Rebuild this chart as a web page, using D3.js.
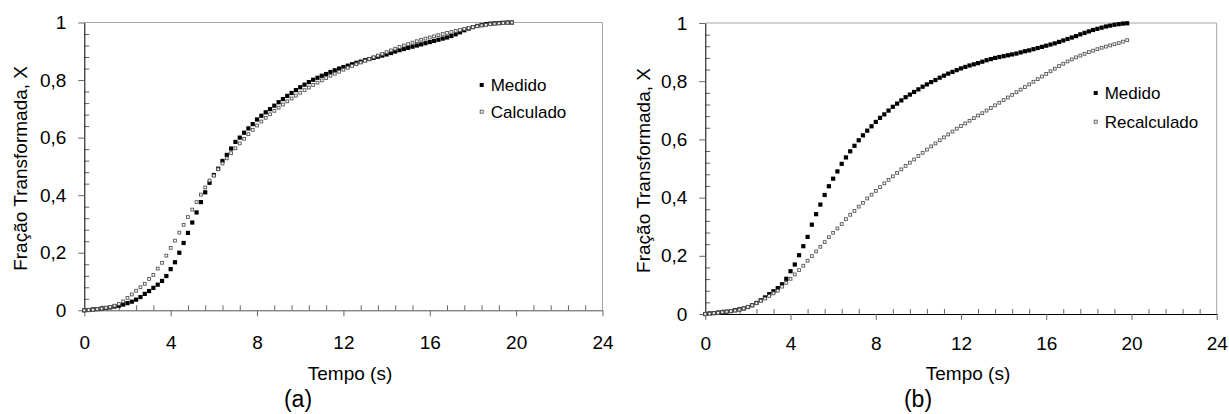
<!DOCTYPE html>
<html lang="pt">
<head>
  <meta charset="UTF-8">
  <title>Fração Transformada x Tempo</title>
  <script src="https://d3js.org/d3.v7.min.js"></script>
  <style>
    body { margin: 0; background: #fff; }
    svg { display: block; font-family: Arial, "Liberation Sans", sans-serif; }
    .tick text { font-size: 19px; fill: #000; }
  </style>
</head>
<body>
<svg id="chart" width="1229" height="414"></svg>
<script>
  // Tempo (s) de cada ponto medido
  const time = [0, 0.2, 0.4, 0.6, 0.8, 1.0, 1.2, 1.4, 1.6, 1.8,
    2.0, 2.2, 2.4, 2.6, 2.8, 3.0, 3.2, 3.4, 3.6, 3.8,
    4.0, 4.2, 4.4, 4.6, 4.8, 5.0, 5.2, 5.4, 5.6, 5.8,
    6.0, 6.2, 6.4, 6.6, 6.8, 7.0, 7.2, 7.4, 7.6, 7.8,
    8.0, 8.2, 8.4, 8.6, 8.8, 9.0, 9.2, 9.4, 9.6, 9.8,
    10.0, 10.2, 10.4, 10.6, 10.8, 11.0, 11.2, 11.4, 11.6, 11.8,
    12.0, 12.2, 12.4, 12.6, 12.8, 13.0, 13.2, 13.4, 13.6, 13.8,
    14.0, 14.2, 14.4, 14.6, 14.8, 15.0, 15.2, 15.4, 15.6, 15.8,
    16.0, 16.2, 16.4, 16.6, 16.8, 17.0, 17.2, 17.4, 17.6, 17.8,
    18.0, 18.2, 18.4, 18.6, 18.8, 19.0, 19.2, 19.4, 19.6, 19.8];

  // (a) Medido / Calculado
  const medidoA = [0.000, 0.001, 0.003, 0.004, 0.006, 0.008, 0.010, 0.013, 0.016, 0.020,
    0.025, 0.030, 0.037, 0.046, 0.057, 0.067, 0.078, 0.089, 0.102, 0.119,
    0.143, 0.167, 0.200, 0.234, 0.269, 0.305, 0.340, 0.376, 0.410, 0.443,
    0.470, 0.492, 0.519, 0.540, 0.562, 0.585, 0.600, 0.617, 0.632, 0.647,
    0.663, 0.676, 0.688, 0.699, 0.711, 0.723, 0.734, 0.745, 0.755, 0.765,
    0.775, 0.784, 0.793, 0.801, 0.808, 0.815, 0.821, 0.828, 0.834, 0.840,
    0.845, 0.850, 0.855, 0.860, 0.864, 0.869, 0.873, 0.877, 0.881, 0.885,
    0.889, 0.894, 0.899, 0.904, 0.908, 0.912, 0.916, 0.920, 0.924, 0.928,
    0.932, 0.936, 0.940, 0.944, 0.948, 0.953, 0.959, 0.966, 0.973, 0.979,
    0.984, 0.988, 0.991, 0.994, 0.996, 0.997, 0.998, 0.999, 1.000, 1.000];
  const calculadoA = [0.000, 0.001, 0.002, 0.004, 0.006, 0.009, 0.012, 0.016, 0.022, 0.031,
    0.043, 0.055, 0.068, 0.080, 0.092, 0.109, 0.123, 0.145, 0.165, 0.190,
    0.217, 0.242, 0.270, 0.297, 0.324, 0.350, 0.376, 0.402, 0.427, 0.451,
    0.468, 0.490, 0.510, 0.528, 0.546, 0.563, 0.580, 0.596, 0.612, 0.627,
    0.642, 0.656, 0.669, 0.681, 0.693, 0.704, 0.715, 0.726, 0.736, 0.746,
    0.756, 0.765, 0.774, 0.783, 0.791, 0.799, 0.807, 0.815, 0.822, 0.829,
    0.836, 0.843, 0.849, 0.855, 0.861, 0.867, 0.873, 0.879, 0.885, 0.891,
    0.897, 0.903, 0.909, 0.915, 0.920, 0.925, 0.930, 0.935, 0.940, 0.944,
    0.948, 0.952, 0.956, 0.960, 0.964, 0.967, 0.971, 0.974, 0.978, 0.981,
    0.984, 0.987, 0.990, 0.992, 0.994, 0.996, 0.997, 0.998, 0.999, 1.000];

  // (b) Medido / Recalculado
  const medidoB = [0.000, 0.002, 0.003, 0.005, 0.006, 0.008, 0.010, 0.013, 0.016, 0.019,
    0.024, 0.030, 0.038, 0.047, 0.057, 0.068, 0.078, 0.089, 0.102, 0.121,
    0.147, 0.170, 0.202, 0.233, 0.265, 0.307, 0.343, 0.376, 0.409, 0.439,
    0.465, 0.490, 0.516, 0.538, 0.559, 0.578, 0.597, 0.614, 0.630, 0.645,
    0.660, 0.674, 0.686, 0.699, 0.712, 0.723, 0.734, 0.745, 0.754, 0.763,
    0.772, 0.781, 0.789, 0.797, 0.804, 0.812, 0.819, 0.826, 0.832, 0.838,
    0.844, 0.849, 0.854, 0.858, 0.862, 0.867, 0.872, 0.876, 0.880, 0.883,
    0.886, 0.889, 0.892, 0.895, 0.899, 0.903, 0.906, 0.910, 0.914, 0.918,
    0.922, 0.926, 0.930, 0.935, 0.940, 0.945, 0.950, 0.955, 0.961, 0.966,
    0.971, 0.976, 0.980, 0.984, 0.988, 0.991, 0.994, 0.996, 0.998, 0.999];
  const recalculadoB = [0.000, 0.001, 0.003, 0.004, 0.006, 0.008, 0.010, 0.012, 0.015, 0.019,
    0.024, 0.030, 0.037, 0.045, 0.053, 0.062, 0.071, 0.080, 0.094, 0.107,
    0.121, 0.136, 0.151, 0.166, 0.183, 0.199, 0.215, 0.231, 0.247, 0.264,
    0.279, 0.294, 0.309, 0.326, 0.341, 0.354, 0.369, 0.382, 0.397, 0.410,
    0.423, 0.436, 0.449, 0.461, 0.473, 0.485, 0.497, 0.509, 0.520, 0.531,
    0.543, 0.554, 0.565, 0.576, 0.586, 0.597, 0.607, 0.617, 0.627, 0.637,
    0.646, 0.655, 0.664, 0.673, 0.682, 0.690, 0.699, 0.708, 0.717, 0.726,
    0.735, 0.744, 0.753, 0.762, 0.771, 0.780, 0.789, 0.798, 0.807, 0.816,
    0.825, 0.834, 0.843, 0.852, 0.860, 0.868, 0.875, 0.882, 0.888, 0.894,
    0.900, 0.905, 0.910, 0.915, 0.919, 0.923, 0.927, 0.931, 0.936, 0.941];

  const xTicks = [0, 4, 8, 12, 16, 20, 24];
  const yTicks = [0, 0.2, 0.4, 0.6, 0.8, 1];
  const yTickLabels = ["0", "0,2", "0,4", "0,6", "0,8", "1"];
  const xMinorStep = 0.8, yMinorStep = 0.04;

  const panels = [
    { label: "(a)", left: 84.3, right: 602.5, top: 22.5, bottom: 310.3,
      names: ["Medido", "Calculado"], values: [medidoA, calculadoA],
      legendX: 481.7, legendY: [85, 111.7], labelPad: 19, axisColor: "#555",
      yTitleX: 27, xTitleX: 350, panelX: 298 },
    { label: "(b)", left: 705.3, right: 1216.7, top: 23, bottom: 314,
      names: ["Medido", "Recalculado"], values: [medidoB, recalculadoB],
      legendX: 1095.7, legendY: [93, 121.7], labelPad: 17, axisColor: "#000",
      yTitleX: 650, xTitleX: 968, panelX: 918 }
  ];

  const svg = d3.select("#chart");

  panels.forEach(p => {
    const x = d3.scaleLinear().domain([0, 24]).range([p.left, p.right]);
    const y = d3.scaleLinear().domain([0, 1]).range([p.bottom, p.top]);
    const g = svg.append("g");

    // plot area border (top and right, light gray)
    g.append("path")
      .attr("d", `M${p.left},${p.top}H${p.right}V${p.bottom}`)
      .attr("fill", "none").attr("stroke", "#a6a6a6").attr("stroke-width", 1);

    const xMinor = d3.range(0, 24.001, xMinorStep).filter(v => Math.abs(v / 4 - Math.round(v / 4)) > 1e-6);
    const yMinor = d3.range(0, 1.0001, yMinorStep).filter(v => Math.abs(v / 0.2 - Math.round(v / 0.2)) > 1e-6);

    // x axis
    g.append("g").attr("transform", `translate(0,${p.bottom})`)
      .call(d3.axisBottom(x).tickValues(xMinor).tickSize(-5).tickSizeOuter(0).tickFormat(""))
      .call(s => s.select(".domain").remove())
      .call(s => s.selectAll("line").attr("stroke", "#666"));
    g.append("g").attr("transform", `translate(0,${p.bottom})`)
      .call(d3.axisBottom(x).tickValues(xTicks).tickSize(6).tickSizeOuter(0).tickPadding(p.labelPad))
      .call(s => s.select(".domain").attr("stroke", p.axisColor))
      .call(s => s.selectAll("line").attr("stroke", "#666"));

    // y axis
    g.append("g").attr("transform", `translate(${p.left},0)`)
      .call(d3.axisLeft(y).tickValues(yMinor).tickSize(-5).tickSizeOuter(0).tickFormat(""))
      .call(s => s.select(".domain").remove())
      .call(s => s.selectAll("line").attr("stroke", "#666"));
    g.append("g").attr("transform", `translate(${p.left},0)`)
      .call(d3.axisLeft(y).tickValues(yTicks).tickSize(6).tickSizeOuter(0).tickPadding(12)
        .tickFormat((d, i) => yTickLabels[i]))
      .call(s => s.select(".domain").attr("stroke", "#000"))
      .call(s => s.selectAll("line").attr("stroke", "#666"));

    // series: first filled (Medido), then open
    p.values.forEach((vals, k) => {
      const pts = time.map((t, i) => ({ t: t, v: vals[i] }));
      const filled = k === 0;
      const size = filled ? 4.2 : 2.8;
      g.append("g").selectAll("rect").data(pts).join("rect")
        .attr("x", d => x(d.t) - size / 2)
        .attr("y", d => y(d.v) - size / 2)
        .attr("width", size).attr("height", size)
        .attr("fill", filled ? "#000" : "#fff")
        .attr("stroke", filled ? "none" : "#555")
        .attr("stroke-width", filled ? 0 : 0.9);
    });

    // legend
    p.names.forEach((name, k) => {
      const ly = p.legendY[k];
      const s = k === 0 ? 4 : 3;
      g.append("rect")
        .attr("x", p.legendX - s / 2).attr("y", ly - s / 2)
        .attr("width", s).attr("height", s)
        .attr("fill", k === 0 ? "#000" : "#fff")
        .attr("stroke", k === 0 ? "none" : "#555").attr("stroke-width", 0.9);
      g.append("text")
        .attr("x", p.legendX + 9).attr("y", ly).attr("dy", "0.35em")
        .attr("font-size", 17).text(name);
    });

    // axis titles
    g.append("text")
      .attr("transform", `translate(${p.yTitleX},${(p.top + p.bottom) / 2 + 2}) rotate(-90)`)
      .attr("text-anchor", "middle").attr("font-size", 19)
      .text("Fração Transformada, X");
    g.append("text")
      .attr("x", p.xTitleX).attr("y", 380)
      .attr("text-anchor", "middle").attr("font-size", 19)
      .text("Tempo (s)");
    g.append("text")
      .attr("x", p.panelX).attr("y", 407)
      .attr("text-anchor", "middle").attr("font-size", 23)
      .text(p.label);
  });
</script>
</body>
</html>
